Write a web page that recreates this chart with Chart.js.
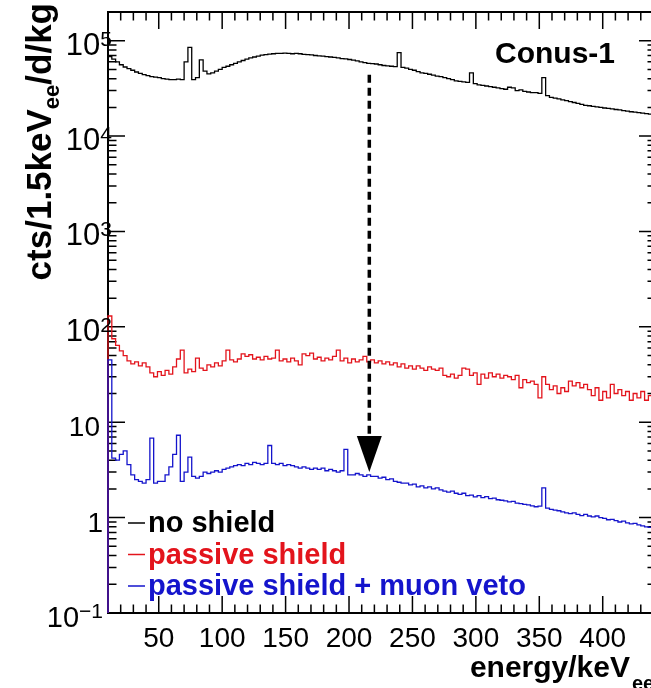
<!DOCTYPE html>
<html>
<head>
<meta charset="utf-8">
<script src="https://cdn.jsdelivr.net/npm/chart.js@4.4.0/dist/chart.umd.min.js"></script>
<style>
  html, body { margin: 0; padding: 0; background: #fff; overflow: hidden; }
  #wrap { width: 651px; height: 688px; overflow: hidden; }
  canvas { display: block; }
</style>
</head>
<body>
<div id="wrap"><canvas id="spectrum" width="660" height="688"></canvas></div>
<script>
// histogram binning (keV)
const binStart = 10;
const binWidth = 3;

// cts / 1.5 keV_ee / d / kg, one value per bin
const noShield = [
  68000, 64000, 60000, 56000, 53000, 51000, 49000, 47000, 45500, 44000,
  43000, 42000, 41500, 41000, 40000, 39500, 39000, 39000, 39500, 39000,
  60000, 85000, 39000, 41000, 63000, 48000, 45000, 46000, 48000, 50000,
  52500, 54000, 56000, 58000, 60000, 62000, 64000, 66000, 67500, 69000,
  70500, 71500, 72500, 73000, 73500, 73500, 74000, 73500, 73000, 73500,
  73000, 72000, 71500, 71000, 70000, 69500, 69000, 68000, 67500, 67000,
  66000, 65000, 64500, 63500, 62500, 61500, 60000, 59000, 58000, 57500,
  57000, 56000, 55000, 54500, 54000, 53500, 75000, 52500, 51500, 50000,
  49000, 47500, 46000, 45500, 44500, 43500, 42500, 42000, 41000, 40000,
  39000, 38000, 37500, 37000, 36500, 46000, 35500, 34500, 34000, 33500,
  33000, 32500, 32000, 31500, 31000, 32500, 32000, 30000, 30500, 29500,
  29000, 28500, 28500, 28000, 41000, 26500, 25500, 25000, 24500, 24000,
  23500, 23000, 22500, 22000, 21500, 21000, 20800, 20500, 20200, 20000,
  19700, 19500, 19300, 19000, 18800, 18500, 18300, 18000, 17800, 17600,
  17400, 17200, 17000, 16800
];
const passiveShield = [
  130, 75, 64, 56, 50, 44, 41, 43, 39, 42,
  38, 33, 30, 34, 31, 35, 32, 38, 46, 57,
  33, 36, 34, 47, 37, 35, 40, 38, 42, 39,
  44, 57, 45, 43, 46, 52, 49, 51, 46, 48,
  45, 49, 46, 47, 57, 44, 46, 43, 47, 44,
  40, 52, 50, 53, 46, 48, 44, 47, 45, 49,
  57, 44, 47, 42, 46, 43, 45, 49, 43, 45,
  42, 44, 41, 43, 40, 42, 38, 41, 37, 39,
  36, 39, 37, 35, 38, 36, 35, 37, 31, 30,
  32, 29, 31, 37, 36, 31, 33, 25, 32, 29,
  33, 30, 32, 29, 31, 30, 28, 31, 23, 28,
  26, 27, 25, 18, 30, 25, 22, 24, 20, 23,
  21, 27, 24, 26, 23, 25, 22, 19, 23, 17,
  21, 18, 25, 20, 22, 19, 21, 17, 20, 18,
  21, 17, 19, 18
];
const muonVeto = [
  45, 4.2, 4.0, 4.6, 5.0, 3.6, 2.8, 2.5, 2.4, 2.3,
  2.5, 6.8, 2.3, 2.4, 2.4, 2.8, 3.4, 4.6, 7.3, 2.4,
  3.0, 4.3, 2.7, 2.6, 2.7, 3.0, 2.9, 3.0, 3.1, 3.0,
  3.2, 3.3, 3.4, 3.5, 3.6, 3.5, 3.7, 3.6, 3.8, 3.7,
  3.6, 3.7, 5.7, 3.7, 3.6, 3.7, 3.5, 3.6, 3.5, 3.4,
  3.3, 3.4, 3.3, 3.2, 3.3, 3.2, 3.3, 3.1, 3.2, 3.1,
  3.0, 3.1, 5.2, 2.8, 2.8, 2.9, 2.8, 2.7, 2.8, 2.7,
  2.7, 2.6, 2.65, 2.5, 2.55, 2.4, 2.35, 2.3, 2.3, 2.2,
  2.25, 2.1, 2.15, 2.05, 2.1, 2.0, 2.05, 1.95, 1.9, 1.85,
  1.9, 1.8, 1.75, 1.8, 1.7, 1.72, 1.65, 1.7, 1.62, 1.66,
  1.58, 1.6, 1.54, 1.52, 1.5, 1.46, 1.48, 1.42, 1.4, 1.38,
  1.36, 1.33, 1.3, 1.32, 2.05, 1.26, 1.22, 1.2, 1.18, 1.15,
  1.12, 1.1, 1.12, 1.08, 1.05, 1.08, 1.04, 1.02, 1.04, 1.0,
  0.98, 0.95, 0.96, 0.93, 0.9, 0.92, 0.88, 0.86, 0.87, 0.84,
  0.82, 0.8, 0.79, 0.78
];

const seriesLabels = ["no shield", "passive shield", "passive shield + muon veto"];
const seriesColors = ["#000000", "#e3141c", "#1414cc"];

const xMin = 10, xMax = 442;
const yMin = 0.1, yMax = 2e5;
const xTickLabels = ["50", "100", "150", "200", "250", "300", "350", "400"];
const yTickValues = [0.1, 1, 10, 100, 1000, 10000, 100000];
const yTickBase = ["10", "1", "10", "10", "10", "10", "10"];
const yTickExp = ["\u22121", "", "", "2", "3", "4", "5"];

// arrow: from the unshielded level down to the vetoed level
const arrowEnergy = 216;
const arrowFrom = 44000;
const arrowTo = 3.0;

const FONT = '"Liberation Sans", Arial, Helvetica, sans-serif';

function toHistogram(values) {
    const pts = [{ x: binStart, y: yMin }];
    values.forEach((v, i) => pts.push({ x: binStart + i * binWidth, y: v }));
    pts.push({ x: binStart + values.length * binWidth, y: values[values.length - 1] });
    return pts;
}

const rootStyle = {
    id: "rootStyle",
    beforeDatasetsDraw(chart) {
        const { ctx, chartArea: a, scales: { x, y } } = chart;
        ctx.save();
        ctx.strokeStyle = "#000";
        ctx.lineWidth = 2;
        ctx.strokeRect(a.left, a.top, a.right - a.left, a.bottom - a.top);

        // inward ticks on all four sides
        ctx.lineWidth = 1.5;
        ctx.beginPath();
        for (let e = 20; e <= 440; e += 10) {
            const px = x.getPixelForValue(e);
            const len = e % 50 === 0 ? 17 : 8.5;
            ctx.moveTo(px, a.bottom); ctx.lineTo(px, a.bottom - len);
            ctx.moveTo(px, a.top); ctx.lineTo(px, a.top + len);
        }
        for (let d = -1; d <= 5; d++) {
            for (let m = 1; m <= 9; m++) {
                const v = m * Math.pow(10, d);
                if (v < yMin || v > yMax) continue;
                const py = y.getPixelForValue(v);
                const len = m === 1 ? 17 : 8.5;
                ctx.moveTo(a.left, py); ctx.lineTo(a.left + len, py);
                ctx.moveTo(a.right, py); ctx.lineTo(a.right - len, py);
            }
        }
        ctx.stroke();
        ctx.restore();
    },
    afterDatasetsDraw(chart) {
        const { ctx, chartArea: a, scales: { x, y } } = chart;
        ctx.save();

        // arrow
        const ax = x.getPixelForValue(arrowEnergy);
        const ay0 = y.getPixelForValue(arrowFrom);
        const ay1 = y.getPixelForValue(arrowTo);
        ctx.strokeStyle = "#000";
        ctx.lineWidth = 3.5;
        ctx.setLineDash([8, 5]);
        ctx.beginPath();
        ctx.moveTo(ax, ay0);
        ctx.lineTo(ax, ay1 - 34);
        ctx.stroke();
        ctx.setLineDash([]);
        ctx.fillStyle = "#000";
        ctx.beginPath();
        ctx.moveTo(ax - 12.5, ay1 - 36);
        ctx.lineTo(ax + 12.5, ay1 - 36);
        ctx.lineTo(ax, ay1);
        ctx.closePath();
        ctx.fill();

        ctx.fillStyle = "#000";
        // x tick labels
        ctx.font = "28px " + FONT;
        ctx.textAlign = "center";
        ctx.textBaseline = "alphabetic";
        xTickLabels.forEach(t => {
            ctx.fillText(t, x.getPixelForValue(Number(t)), a.bottom + 34);
        });

        // y tick labels with exponents
        yTickValues.forEach((v, i) => {
            const py = y.getPixelForValue(v);
            const exp = yTickExp[i];
            ctx.font = "28px " + FONT;
            ctx.textAlign = "right";
            if (!exp) {
                ctx.fillText(yTickBase[i], yTickBase[i] === "1" ? 103 : 100, py + 14);
                return;
            }
            ctx.font = "21px " + FONT;
            const ew = ctx.measureText(exp).width;
            const right = v < 1 ? 103 : 112;
            ctx.textAlign = "left";
            ctx.fillText(exp, right - ew, py + 5);
            ctx.font = (v < 1 ? "29px " : "31px ") + FONT;
            ctx.textAlign = "right";
            ctx.fillText(yTickBase[i], right - ew, py + 14);
        });

        // y title (rotated, right aligned at the top)
        ctx.save();
        ctx.translate(51, 3);
        ctx.rotate(-Math.PI / 2);
        ctx.textAlign = "left";
        const big = "bold 35px " + FONT, small = "bold 22px " + FONT;
        const parts = [["cts/1.5keV", big, 0], ["ee", small, 8], ["/d/kg", big, 0]];
        let total = 0;
        parts.forEach(p => { ctx.font = p[1]; total += ctx.measureText(p[0]).width; });
        let cx = -total;
        parts.forEach(p => {
            ctx.font = p[1];
            ctx.fillText(p[0], cx, p[2]);
            cx += ctx.measureText(p[0]).width;
        });
        ctx.restore();

        // x title
        ctx.font = "bold 30px " + FONT;
        ctx.textAlign = "right";
        ctx.fillText("energy/keV", 630, 677);
        ctx.font = "bold 20px " + FONT;
        ctx.textAlign = "left";
        ctx.fillText("ee", 632, 690);

        // detector label
        ctx.font = "bold 30px " + FONT;
        ctx.textAlign = "left";
        ctx.fillText("Conus-1", 495, 63);

        // legend
        ctx.font = "bold 29px " + FONT;
        seriesLabels.forEach((lab, i) => {
            const base = 532 + i * 31.5;
            ctx.strokeStyle = seriesColors[i];
            ctx.lineWidth = 1.5;
            ctx.beginPath();
            ctx.moveTo(128, base - 9);
            ctx.lineTo(145, base - 9);
            ctx.stroke();
            ctx.fillStyle = seriesColors[i];
            ctx.fillText(lab, 148, base);
        });
        ctx.restore();
    }
};

const series = [noShield, passiveShield, muonVeto];
const datasets = series.map((vals, i) => ({
    label: seriesLabels[i],
    data: toHistogram(vals),
    borderColor: seriesColors[i],
    borderWidth: 1.3,
    stepped: "before",
    pointRadius: 0,
    fill: false,
    order: 3 - i,
    clip: { left: 3, top: 0, right: 0, bottom: 0 }
}));

new Chart(document.getElementById("spectrum"), {
    type: "line",
    data: { datasets },
    options: {
        responsive: false,
        animation: false,
        devicePixelRatio: 1,
        layout: { padding: { left: 108, top: 12, right: 4, bottom: 75 } },
        plugins: { legend: { display: false }, tooltip: { enabled: false } },
        scales: {
            x: { type: "linear", min: xMin, max: xMax, display: false },
            y: { type: "logarithmic", min: yMin, max: yMax, display: false }
        }
    },
    plugins: [rootStyle]
});
</script>
</body>
</html>
